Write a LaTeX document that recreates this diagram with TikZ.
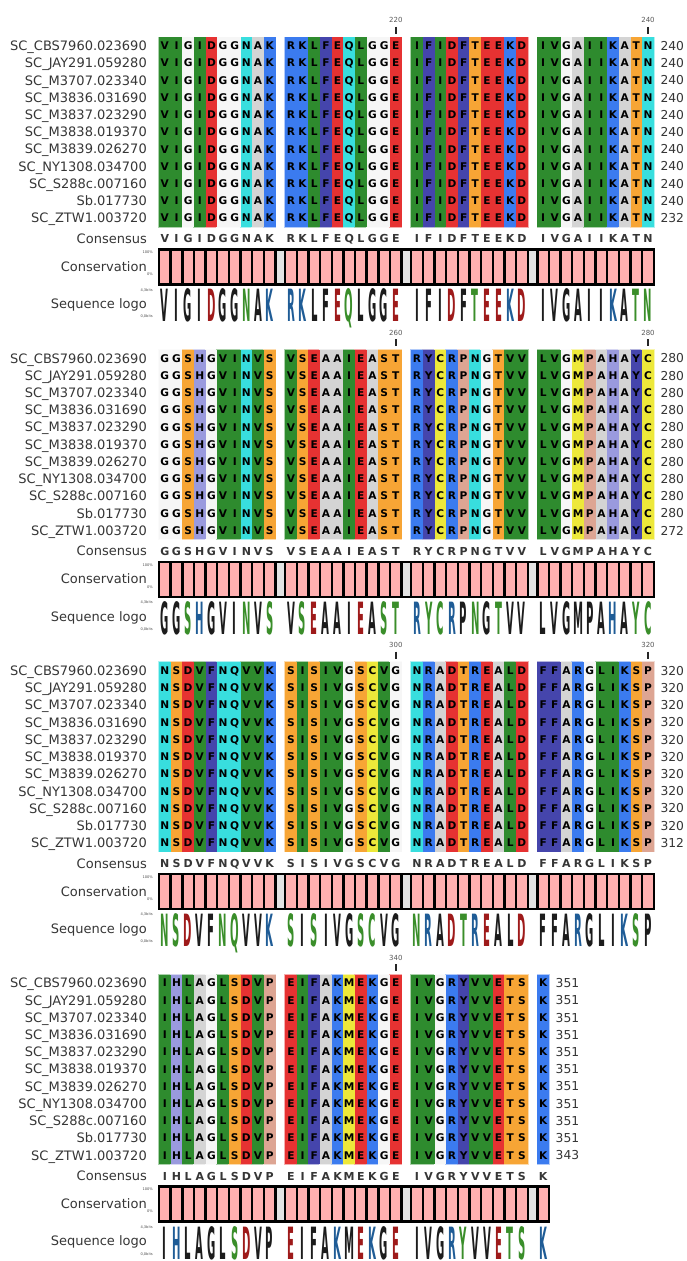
\documentclass[tikz,border=0pt]{standalone}
\usepackage{fontspec}
\setmainfont{DejaVu Sans}
\usepackage{graphicx}

% alignment colours
\definecolor{resV}{HTML}{2E8B2E}
\colorlet{resI}{resV}
\colorlet{resL}{resV}
\definecolor{resM}{HTML}{EDE83A}
\colorlet{resC}{resM}
\definecolor{resA}{HTML}{D4D4D4}
\definecolor{resG}{HTML}{F6F6F6}
\definecolor{resD}{HTML}{E63232}
\colorlet{resE}{resD}
\definecolor{resK}{HTML}{3B7BEF}
\colorlet{resR}{resK}
\definecolor{resN}{HTML}{38DEDE}
\colorlet{resQ}{resN}
\definecolor{resS}{HTML}{F7A535}
\colorlet{resT}{resS}
\definecolor{resF}{HTML}{4545AC}
\colorlet{resY}{resF}
\definecolor{resH}{HTML}{9A9ADE}
\definecolor{resP}{HTML}{DDA593}

% logo colours
\definecolor{logogreen}{HTML}{3A8E2A}
\definecolor{logoblue}{HTML}{1F5C96}
\definecolor{logored}{HTML}{9E1A1A}
\definecolor{logoblack}{HTML}{1C1C1C}
\colorlet{logoV}{logoblack}
\colorlet{logoI}{logoblack}
\colorlet{logoL}{logoblack}
\colorlet{logoA}{logoblack}
\colorlet{logoF}{logoblack}
\colorlet{logoP}{logoblack}
\colorlet{logoM}{logoblack}
\colorlet{logoG}{logoblack}
\colorlet{logoS}{logogreen}
\colorlet{logoT}{logogreen}
\colorlet{logoN}{logogreen}
\colorlet{logoQ}{logogreen}
\colorlet{logoY}{logogreen}
\colorlet{logoC}{logogreen}
\colorlet{logoK}{logoblue}
\colorlet{logoR}{logoblue}
\colorlet{logoH}{logoblue}
\colorlet{logoD}{logored}
\colorlet{logoE}{logored}

\definecolor{conspink}{HTML}{FFB0B0}
\definecolor{consgap}{HTML}{E3E3E3}
\definecolor{labgray}{HTML}{363636}

\newcommand{\strainnames}{SC\_CBS7960.023690,SC\_JAY291.059280,SC\_M3707.023340,SC\_M3836.031690,SC\_M3837.023290,SC\_M3838.019370,SC\_M3839.026270,SC\_NY1308.034700,SC\_S288c.007160,Sb.017730,SC\_ZTW1.003720}

% #1 block, #2 top, #3 segments, #4 right edge, #5 end number, #6 end number of last row, #7 ticks
\newcommand{\alnblock}[7]{
    % position ticks
    \foreach \k/\num in {#7} {
        \pgfmathsetmacro{\tx}{159+126.1*\k+11.65*9.5}
        \node[ticklabel] (b#1-tick\k) at ({\tx},{#2-17}) {\num};
        \draw[tick] ({\tx},{#2-10.5}) -- ({\tx},{#2-3.5});
    }

    % light rim round each segment
    \foreach \k/\seg in {#3} {
        \foreach \c [count=\j from 0] in \seg {
            \pgfmathsetmacro{\cx}{159+126.1*\k+11.65*\j}
            \fill[res\c!40!white] ({\cx-0.8},{#2-0.8}) rectangle ({\cx+12.45},{#2+190.2});
        }
    }

    % gap cells of the conservation bar
    \foreach \k in {0,1,2} {
        \pgfmathsetmacro{\gx}{159+126.1*\k+116.5}
        \draw[gapcell] ({\gx},{#2+212}) rectangle ({\gx+9.6},{#2+247});
    }

    % columns, residues, consensus, conservation, logo
    \foreach \k/\seg in {#3} {
        \foreach \c [count=\j from 0] in \seg {
            \pgfmathsetmacro{\cx}{159+126.1*\k+11.65*\j}
            \fill[res\c] ({\cx},{#2}) rectangle ({\cx+11.65},{#2+189.4});
            \foreach \r in {0,...,10}
                \node[res] (b#1-r\r-s\k-c\j) at ({\cx+5.825},{#2+8.6+17.22*\r}) {\c};
            \node[cons] (b#1-cons-s\k-c\j) at ({\cx+5.825},{#2+201.5}) {\c};
            \draw[cell] ({\cx},{#2+212}) rectangle ({\cx+11.65},{#2+247});
            \node[logo, text=logo\c] (b#1-logo-s\k-c\j) at ({\cx+5.825},{#2+284.5}) {\scalebox{0.84}[3.7]{\c}};
        }
    }
    \draw[consbox] (159,{#2+212}) rectangle ({#4},{#2+247});

    % strain names and end positions
    \foreach \nm [count=\r from 0] in \strainnames {
        \node[strain] (b#1-name\r) at (147,{#2+8.6+17.22*\r}) {\nm};
        \ifnum\r=10 \def\endno{#6}\else\def\endno{#5}\fi
        \node[endno] (b#1-end\r) at ({#4+6.5},{#2+8.6+17.22*\r}) {\endno};
    }

    % row labels
    \node[strain] (b#1-conslabel) at (147,{#2+201.5}) {Consensus};
    \node[strain] (b#1-conservlabel) at (147,{#2+229.5}) {Conservation};
    \node[strain] (b#1-logolabel) at (147,{#2+266.7}) {Sequence logo};
    \node[tinylabel] (b#1-top) at (153,{#2+215}) {100\%};
    \node[tinylabel] (b#1-bot) at (153,{#2+237}) {0\%};
    \node[tinylabel] (b#1-bitstop) at (153,{#2+252.7}) {4,3bits};
    \node[tinylabel] (b#1-bitsbot) at (153,{#2+279.4}) {0,0bits};
}

\begin{document}
\begin{tikzpicture}[
        x=1pt, y=-1pt,
        res/.style={font=\bfseries\fontsize{10.6}{10.6}\selectfont, text=black, inner sep=0pt, text height=7.7pt, text depth=0pt},
        cons/.style={font=\bfseries\fontsize{11}{11}\selectfont, text=labgray, inner sep=0pt, text height=8pt, text depth=0pt},
        logo/.style={font=\bfseries\fontsize{12}{12}\selectfont, inner sep=0pt, anchor=base, text depth=0pt},
        strain/.style={font=\fontsize{13}{13}\selectfont, text=labgray, anchor=east, inner sep=0pt, text height=9.5pt, text depth=0pt},
        endno/.style={font=\fontsize{12.3}{12.3}\selectfont, text=labgray, anchor=west, inner sep=0pt, text height=9pt, text depth=0pt},
        ticklabel/.style={font=\fontsize{7}{7}\selectfont, text=black!65, inner sep=0pt, text height=5.2pt, text depth=0pt},
        tinylabel/.style={font=\fontsize{3.6}{3.6}\selectfont, text=black!70, anchor=east, inner sep=0pt},
        tick/.style={line width=1.6pt, black!85},
        cell/.style={fill=conspink, draw=black, line width=2.4pt},
        gapcell/.style={fill=consgap, draw=black, line width=2.4pt},
        consbox/.style={draw=black, line width=2pt}
    ]

    \fill[white] (0,0) rectangle (687,1261);
    \useasboundingbox (0,0) rectangle (687,1261);

    % Block 1 (201-240)
    \alnblock{1}{37.3}{0/{V,I,G,I,D,G,G,N,A,K},1/{R,K,L,F,E,Q,L,G,G,E},2/{I,F,I,D,F,T,E,E,K,D},3/{I,V,G,A,I,I,K,A,T,N}}{653.8}{240}{232}{1/220,3/240}

    % Block 2 (241-280)
    \alnblock{2}{349.7}{0/{G,G,S,H,G,V,I,N,V,S},1/{V,S,E,A,A,I,E,A,S,T},2/{R,Y,C,R,P,N,G,T,V,V},3/{L,V,G,M,P,A,H,A,Y,C}}{653.8}{280}{272}{1/260,3/280}

    % Block 3 (281-320)
    \alnblock{3}{662.1}{0/{N,S,D,V,F,N,Q,V,V,K},1/{S,I,S,I,V,G,S,C,V,G},2/{N,R,A,D,T,R,E,A,L,D},3/{F,F,A,R,G,L,I,K,S,P}}{653.8}{320}{312}{1/300,3/320}

    % Block 4 (321-351)
    \alnblock{4}{974.5}{0/{I,H,L,A,G,L,S,D,V,P},1/{E,I,F,A,K,M,E,K,G,E},2/{I,V,G,R,Y,V,V,E,T,S},3/{K}}{549}{351}{343}{1/340}

\end{tikzpicture}
\end{document}
